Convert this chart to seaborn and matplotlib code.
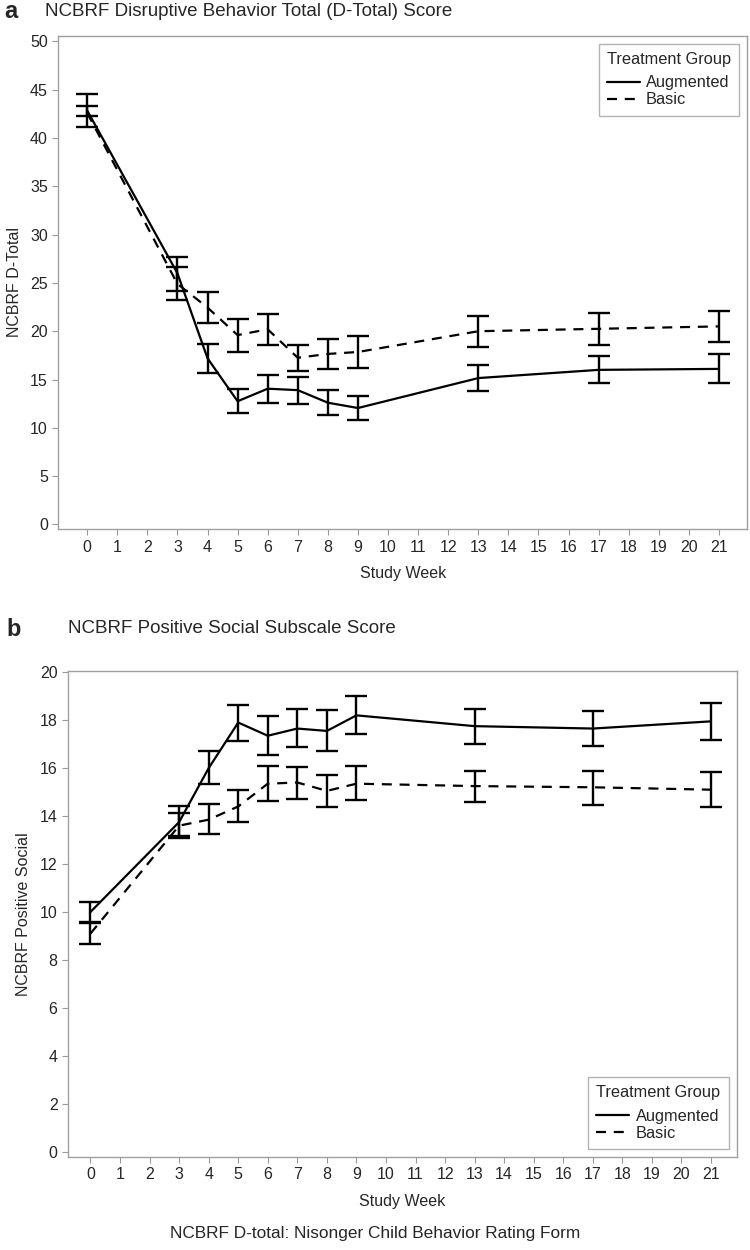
import matplotlib
matplotlib.use("Agg")
import matplotlib.pyplot as plt
import seaborn as sns
import numpy as np
import pandas as pd

sns.set_style("white")
plt.rcParams['font.family'] = ['Liberation Sans', 'DejaVu Sans']

weeks = [0, 3, 4, 5, 6, 7, 8, 9, 13, 17, 21]
groups = ['Augmented', 'Basic']

# panel a: D-Total
dtotal_aug_mean = [42.85, 26.0, 17.2, 12.75, 14.05, 13.9, 12.6, 12.05, 15.15, 16.0, 16.1]
dtotal_aug_lo = [41.1, 24.2, 15.7, 11.5, 12.6, 12.5, 11.3, 10.8, 13.8, 14.6, 14.6]
dtotal_aug_hi = [44.6, 27.7, 18.7, 14.0, 15.5, 15.3, 13.9, 13.3, 16.5, 17.4, 17.6]
dtotal_bas_mean = [42.6, 24.9, 22.45, 19.6, 20.2, 17.25, 17.65, 17.85, 20.0, 20.25, 20.5]
dtotal_bas_lo = [42.3, 23.2, 20.8, 17.9, 18.6, 15.9, 16.1, 16.2, 18.4, 18.6, 18.9]
dtotal_bas_hi = [43.3, 26.6, 24.1, 21.3, 21.8, 18.6, 19.2, 19.5, 21.6, 21.9, 22.1]

# panel b: Positive Social
social_aug_mean = [10.0, 13.75, 16.0, 17.9, 17.35, 17.65, 17.55, 18.2, 17.75, 17.65, 17.95]
social_aug_lo = [9.6, 13.1, 15.35, 17.13, 16.55, 16.9, 16.72, 17.41, 17.0, 16.94, 17.17]
social_aug_hi = [10.4, 14.42, 16.72, 18.62, 18.18, 18.45, 18.41, 19.0, 18.48, 18.39, 18.73]
social_bas_mean = [9.1, 13.6, 13.85, 14.4, 15.35, 15.4, 15.05, 15.35, 15.25, 15.2, 15.1]
social_bas_lo = [8.66, 13.17, 13.24, 13.75, 14.62, 14.73, 14.37, 14.65, 14.58, 14.48, 14.37]
social_bas_hi = [9.56, 14.11, 14.51, 15.08, 16.07, 16.03, 15.72, 16.1, 15.9, 15.9, 15.82]


def make_frame(aug_mean, aug_lo, aug_hi, bas_mean, bas_lo, bas_hi):
    n = len(weeks)
    return pd.DataFrame({
        'week': weeks * 2,
        'score': aug_mean + bas_mean,
        'lo': aug_lo + bas_lo,
        'hi': aug_hi + bas_hi,
        'Treatment Group': ['Augmented'] * n + ['Basic'] * n,
    })


def draw_panel(ax, df, ylabel, yticks, ylim, xlim, legend_loc):
    sns.lineplot(data=df, x='week', y='score', style='Treatment Group',
                 style_order=groups, dashes=['', (4.5, 3.5)], color='black',
                 linewidth=1.6, ax=ax, legend=True)
    for g in groups:
        d = df[df['Treatment Group'] == g]
        ax.errorbar(d['week'], d['score'],
                    yerr=[d['score'] - d['lo'], d['hi'] - d['score']],
                    fmt='none', ecolor='black', elinewidth=1.7,
                    capsize=8, capthick=1.7)
    ax.set_xlim(*xlim)
    ax.set_ylim(*ylim)
    ax.set_xticks(range(0, 22))
    ax.set_yticks(yticks)
    ax.set_xlabel('Study Week', fontsize=11.5, labelpad=8)
    ax.set_ylabel(ylabel, fontsize=11.5, labelpad=6)
    ax.tick_params(axis='both', which='both', direction='out', length=4,
                   width=0.8, color='#999999', labelsize=11.5, bottom=True, left=True)
    for s in ax.spines.values():
        s.set_color('#a0a0a0')
        s.set_linewidth(1.0)
    h, l = ax.get_legend_handles_labels()
    leg = ax.legend(h, l, title='Treatment Group', loc=legend_loc, fontsize=11.8,
                    title_fontsize=11.8, frameon=True, fancybox=False,
                    edgecolor='#a0a0a0', handlelength=2.0, handletextpad=0.4,
                    borderpad=0.5, labelspacing=0.12, alignment='left',
                    borderaxespad=0.5)
    leg.get_frame().set_linewidth(1.0)
    leg._legend_box.sep = 6


fig = plt.figure(figsize=(7.5, 12.5), dpi=100)
ax1 = fig.add_axes([0.0777, 0.5766, 0.9187, 0.3949])
ax2 = fig.add_axes([0.0907, 0.0744, 0.8916, 0.3888])

df_a = make_frame(dtotal_aug_mean, dtotal_aug_lo, dtotal_aug_hi,
                  dtotal_bas_mean, dtotal_bas_lo, dtotal_bas_hi)
df_b = make_frame(social_aug_mean, social_aug_lo, social_aug_hi,
                  social_bas_mean, social_bas_lo, social_bas_hi)

draw_panel(ax1, df_a, 'NCBRF D-Total', range(0, 51, 5), (-0.5, 50.6), (-0.96, 21.94), 'upper right')
draw_panel(ax2, df_b, 'NCBRF Positive Social', range(0, 21, 2), (-0.22, 20.05), (-0.76, 21.87), 'lower right')

fig.text(0.006, 0.9905, 'a', fontsize=17, fontweight='bold', va='center', ha='left')
fig.text(0.06, 0.9905, 'NCBRF Disruptive Behavior Total (D-Total) Score', fontsize=13.5, va='center', ha='left')
fig.text(0.008, 0.4965, 'b', fontsize=17, fontweight='bold', va='center', ha='left')
fig.text(0.091, 0.4975, 'NCBRF Positive Social Subscale Score', fontsize=13.5, va='center', ha='left')
fig.text(0.5, 0.0135, 'NCBRF D-total: Nisonger Child Behavior Rating Form', fontsize=12.4, va='center', ha='center')

fig.savefig('out.png', dpi=100, facecolor='white')
